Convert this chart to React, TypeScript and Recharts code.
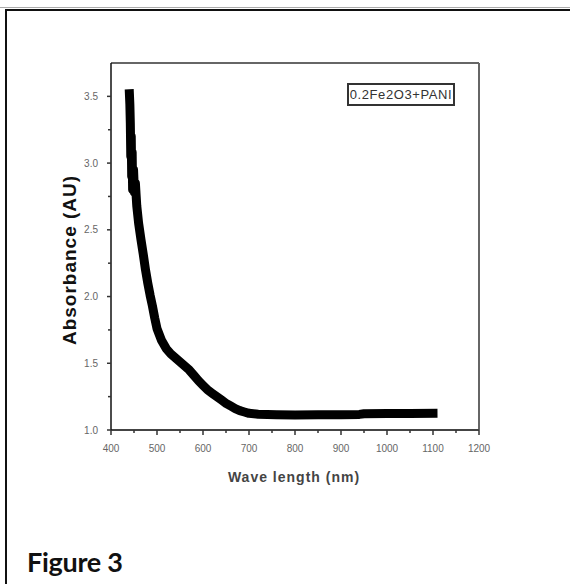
import React from "react";
import { LineChart, Line, XAxis, YAxis, ReferenceLine } from "recharts";

// wavelength (nm) and absorbance
const wavelength = [
  440, 441, 442, 443, 444, 445, 446, 447, 449, 451, 453, 456, 460, 465, 470, 475, 480, 485,
  490, 495, 500, 510, 520, 530, 540, 550, 560, 570, 580, 590, 600, 610, 620, 630, 640, 650,
  660, 670, 680, 690, 700, 720, 760, 800, 850, 900, 940, 950, 1000, 1050, 1100,
];
const absorbance = [
  3.52, 3.44, 3.3, 3.05, 3.2, 2.9, 3.08, 2.8, 2.95, 2.78, 2.85, 2.68, 2.55, 2.43, 2.32, 2.2,
  2.1, 2.01, 1.93, 1.84, 1.76, 1.67, 1.61, 1.57, 1.54, 1.51, 1.48, 1.45, 1.41, 1.37, 1.335,
  1.3, 1.275, 1.25, 1.225, 1.2, 1.18, 1.16, 1.145, 1.135, 1.125, 1.118, 1.115, 1.113, 1.114,
  1.115, 1.117, 1.122, 1.123, 1.124, 1.125,
];

const xTicks = [400, 450, 500, 550, 600, 650, 700, 750, 800, 850, 900, 950, 1000, 1050, 1100, 1150, 1200];
const yTicks = [1.0, 1.25, 1.5, 1.75, 2.0, 2.25, 2.5, 2.75, 3.0, 3.25, 3.5, 3.75];

const seriesName = "0.2Fe2O3+PANI";
const rows = wavelength.map((w, i) => ({ w, abs: absorbance[i] }));

const TICK_FONT = "'Liberation Sans', Arial, sans-serif";

function XTick(p: any) {
  const v = p.payload.value;
  const major = v % 100 === 0;
  return (
    <g>
      <line x1={p.x} x2={p.x} y1={p.y} y2={p.y + (major ? 5 : 3)} stroke="#333" strokeWidth={1.5} />
      {major && (
        <text x={p.x} y={p.y + 22} textAnchor="middle" fontSize={10} fill="#666" fontFamily={TICK_FONT}>
          {v}
        </text>
      )}
    </g>
  );
}

function YTick(p: any) {
  const v = p.payload.value;
  const major = Math.abs(v * 2 - Math.round(v * 2)) < 1e-6;
  if (v > 3.7) return <g />;
  return (
    <g>
      <line x1={p.x - (major ? 4 : 3)} x2={p.x} y1={p.y} y2={p.y} stroke="#333" strokeWidth={1.5} />
      {major && (
        <text x={p.x - 13} y={p.y + 3.5} textAnchor="end" fontSize={10} fill="#666" fontFamily={TICK_FONT}>
          {v.toFixed(1)}
        </text>
      )}
    </g>
  );
}

export default function App() {
  return (
    <div
      style={{
        position: "absolute",
        left: 0,
        top: 0,
        width: 570,
        height: 584,
        overflow: "hidden",
        background: "#fff",
      }}
    >
      <style>{`body{margin:0;overflow:hidden}`}</style>
      <div style={{ position: "absolute", left: 0, top: 7, width: 570, height: 1, background: "#aaa" }} />
      <div
        style={{
          position: "absolute",
          left: 5,
          top: 9,
          width: 700,
          height: 700,
          border: "2px solid #111",
        }}
      />
      <div style={{ position: "absolute", left: 0, top: 0 }}>
        <LineChart width={570} height={584} data={rows} margin={{ top: 63, right: 91, bottom: 124, left: 71 }}>
          <XAxis
            dataKey="w"
            type="number"
            domain={[400, 1200]}
            ticks={xTicks}
            interval={0}
            height={30}
            tickSize={0}
            tickMargin={0}
            axisLine={{ stroke: "#444", strokeWidth: 2 }}
            tickLine={false}
            tick={(p: any) => <XTick {...p} />}
          />
          <YAxis
            type="number"
            domain={[1, 3.75]}
            ticks={yTicks}
            interval={0}
            width={40}
            tickSize={0}
            tickMargin={0}
            axisLine={{ stroke: "#111", strokeWidth: 1.5 }}
            tickLine={false}
            tick={(p: any) => <YTick {...p} />}
          />
          <ReferenceLine y={3.75} stroke="#666" strokeWidth={2} />
          <ReferenceLine x={1200} stroke="#666" strokeWidth={2} />
          <Line
            type="linear"
            dataKey="abs"
            stroke="#000"
            strokeWidth={9}
            strokeLinecap="square"
            strokeLinejoin="round"
            dot={false}
            isAnimationActive={false}
          />
        </LineChart>
      </div>
      <div
        style={{
          position: "absolute",
          left: 347,
          top: 83,
          width: 104,
          height: 19,
          border: "2px solid #333",
          fontFamily: TICK_FONT,
          fontSize: 13,
          letterSpacing: 0.6,
          color: "#333",
          lineHeight: "19px",
          textAlign: "center",
          whiteSpace: "nowrap",
        }}
      >
        {seriesName}
      </div>
      <div
        style={{
          position: "absolute",
          left: 70,
          top: 260,
          transform: "translate(-50%, -50%) rotate(-90deg)",
          fontFamily: TICK_FONT,
          fontWeight: "bold",
          fontSize: 19,
          letterSpacing: 1,
          color: "#111",
          whiteSpace: "nowrap",
        }}
      >
        Absorbance (AU)
      </div>
      <div
        style={{
          position: "absolute",
          left: 294,
          top: 477,
          transform: "translate(-50%, -50%)",
          fontFamily: TICK_FONT,
          fontWeight: "bold",
          fontSize: 14,
          letterSpacing: 1,
          color: "#444",
          whiteSpace: "nowrap",
        }}
      >
        Wave length (nm)
      </div>
      <div
        style={{
          position: "absolute",
          left: 27,
          top: 545,
          fontFamily: "Lato, sans-serif",
          fontWeight: "bold",
          fontSize: 27,
          letterSpacing: -0.3,
          color: "#111",
          whiteSpace: "nowrap",
        }}
      >
        Figure 3
      </div>
    </div>
  );
}
